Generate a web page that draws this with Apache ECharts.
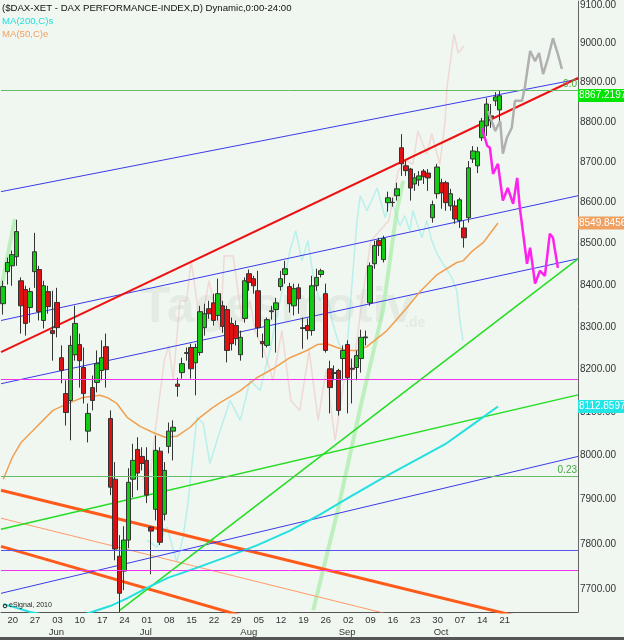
<!DOCTYPE html>
<html>
<head>
<meta charset="utf-8">
<script src="https://cdn.jsdelivr.net/npm/echarts@6/dist/echarts.min.js"></script>
<style>
html, body { margin: 0; padding: 0; background: #f0f7f0; }
#chart { width: 624px; height: 640px; }
</style>
</head>
<body>
<div id="chart"></div>
<script>
// trading days shown on the axis (weekdays from May 17 2013)
var firstDay = [2013, 4, 17];
var dayCount = 129;
var lastLabelDay = '2013-10-21';
var monthNames = ['Jan','Feb','Mar','Apr','May','Jun','Jul','Aug','Sep','Oct','Nov','Dec'];

// daily candles, May 17 .. Oct 21
var opens = [8355,8432,8446,8468,8410,8389,8346,8432,8437,8315,8384,8291,8358,8227,8143,8127,8234,8258,8204,8056,
  8157,8169,8197,8253,8085,7946,7773,7740,7809,7946,8014,7998,7989,7838,7878,8010,7867,8021,8056,8165,
  8192,8237,8251,8215,8239,8298,8343,8357,8327,8350,8341,8308,8303,8234,8320,8427,8415,8386,8265,8256,
  8336,8341,8396,8425,8396,8350,8393,8298,8303,8291,8398,8425,8379,8201,8190,8197,8225,8258,8202,8204,
  8225,8274,8357,8451,8507,8461,8600,8600,8617,8736,8691,8683,8646,8656,8678,8673,8563,8622,8649,8649,
  8592,8592,8556,8538,8563,8708,8691,8761,8791,8816,8854,8831];
var closes = [8396,8454,8473,8529,8350,8308,8384,8480,8336,8398,8348,8284,8298,8197,8099,8256,8308,8220,8143,8097,
  8127,8213,8227,8199,7928,7789,7691,7809,7939,7989,7960,7982,7910,7829,8012,7804,7966,8056,8065,8160,
  8213,8239,8201,8251,8336,8331,8331,8315,8379,8301,8244,8260,8272,8275,8410,8406,8398,8298,8260,8317,
  8338,8357,8415,8439,8355,8391,8367,8296,8291,8398,8418,8434,8244,8157,8192,8104,8244,8180,8200,8232,
  8275,8276,8446,8495,8495,8512,8612,8601,8634,8696,8679,8636,8661,8666,8664,8661,8595,8688,8624,8600,
  8622,8560,8607,8514,8686,8728,8726,8803,8846,8813,8864,8867];
var lows = [8329,8401,8398,8446,8284,8279,8310,8393,8315,8296,8331,8220,8275,8167,8069,8035,8220,8157,8120,8030,
  8104,8146,8174,8157,7910,7764,7650,7698,7791,7905,7921,7966,7892,7733,7853,7798,7853,8005,7989,8136,
  8178,8220,8178,8139,8232,8279,8319,8303,8315,8286,8216,8244,8256,8220,8310,8386,8379,8275,8227,8251,
  8317,8239,8386,8403,8334,8327,8331,8248,8270,8279,8386,8418,8239,8097,8174,8092,8174,8097,8120,8174,
  8192,8256,8350,8439,8470,8454,8578,8590,8605,8666,8666,8605,8629,8641,8646,8629,8551,8610,8585,8580,
  8580,8548,8538,8490,8551,8698,8673,8753,8766,8786,8841,8798];
var highs = [8410,8466,8483,8558,8418,8398,8393,8526,8446,8410,8398,8386,8393,8256,8174,8279,8350,8284,8251,8120,
  8185,8244,8268,8284,8104,7985,7820,7840,7971,8027,8042,8019,8019,7840,8046,8019,7985,8076,8081,8180,
  8227,8251,8260,8260,8350,8355,8362,8379,8415,8362,8350,8322,8315,8291,8418,8437,8422,8434,8284,8322,
  8350,8369,8434,8458,8405,8403,8403,8322,8320,8422,8439,8439,8403,8220,8209,8201,8256,8268,8225,8244,
  8293,8291,8454,8507,8514,8519,8627,8612,8649,8770,8703,8686,8673,8678,8683,8683,8605,8696,8659,8654,
  8634,8605,8612,8556,8703,8740,8738,8811,8861,8846,8876,8881];

// moving averages, [day index, value]
var ma50 = [[0,7946],[2,7995],[4,8030],[6.7,8058],[11.1,8104],[14.9,8122],[17.8,8134],[21.6,8139],[23.2,8134],
  [25.4,8120],[27.7,8088],[30.6,8067],[33.5,8053],[36.2,8042],[38.8,8044],[41.8,8065],[44,8088],[46.9,8111],
  [48.5,8122],[53,8150],[56.7,8180],[60.3,8201],[64.1,8227],[67.9,8244],[70.2,8258],[72.4,8260],[74.6,8251],
  [76.8,8244],[79.1,8244],[81.3,8253],[85.8,8291],[90.3,8346],[93.2,8384],[97,8425],[101.4,8454],[102.8,8458],
  [105,8483],[107.3,8502],[110.6,8550]];
var ma200 = [[0,7667],[3,7659],[6,7650],[10.9,7641],[16.9,7641],[19.8,7650],[23.9,7663],[27.9,7681],[31.9,7702],
  [36.8,7725],[42.9,7746],[49.8,7771],[56.7,7797],[63.9,7829],[70.8,7866],[77.7,7907],[84.7,7948],[91.8,7987],
  [98.8,8026],[104.8,8070],[110.6,8113]];

// projections after the last bar
var projMagenta = [[107,8786],[108.2,8741],[108.8,8736],[109.5,8671],[110.6,8696],[111.7,8605],[112.8,8636],
  [114,8597],[114.9,8661],[115.5,8587],[117.1,8451],[117.8,8490],[118.9,8403],[120,8434],[121.1,8422],
  [122.2,8524],[122.9,8514],[124,8441]];
var projGray = [[108.4,8828],[110,8778],[111.1,8803],[111.7,8721],[112.6,8761],[113.7,8786],[114.4,8854],
  [116,8854],[116.6,8887],[117.8,8981],[118.9,8955],[119.8,8976],[120.7,8922],[121.8,8963],[122.9,9014],
  [124,8973],[124.9,8935]];

// faint pattern overlays
var ghostPink = [[31,7944],[33,7966],[34,8058],[36,8220],[37,8256],[38,8174],[39.5,8362],[41,8362],[42,8458],
  [43,8386],[44,8291],[46,8410],[48.5,8291],[49.4,8470],[51.4,8470],[53.4,8315],[55.2,8362],[56.3,8291],
  [58.3,8244],[60.3,8174],[62.3,8291],[64.3,8127],[66.3,8104],[68.4,8244],[70.4,8081],[72.2,8197],[74.2,8035],
  [76.2,8174],[78.2,8197],[80.2,8362],[82.2,8507],[84.2,8531],[86.2,8556],[88.3,8679],[90.3,8703],[91.6,8695],
  [92.7,8778],[94.7,8720],[95.8,8771],[97.6,8695],[98.8,8803],[99.2,8887],[100.8,9025],[101.7,8976],[103,8994]];
var ghostCyan = [[32.1,7809],[34.4,7793],[36.6,7838],[38.8,7760],[40.2,7815],[41.3,7892],[43.3,8088],[44.7,8074],
  [46.2,7982],[48.5,8058],[50.7,8127],[53,8081],[55.2,8174],[57.4,8150],[59.6,8244],[61.9,8362],[64.1,8483],
  [65.4,8531],[66.8,8458],[68.1,8507],[69.5,8410],[70.8,8362],[72.2,8386],[73.5,8315],[74.8,8268],[76,8232],
  [76.9,8256],[78.2,8434],[79.1,8556],[79.8,8617],[81.3,8580],[83.6,8636],[85.4,8563],[86.5,8612],[87.6,8580],
  [88.7,8543],[89.8,8568],[90.9,8531],[91.6,8580],[92.7,8543],[93.6,8514],[94.7,8556],[95.8,8507],[97,8475],
  [98.3,8451],[99.4,8434],[100.3,8417],[101.4,8386],[102.1,8315],[102.8,8268]];
var ghostGreenA = [[-0.5,8390],[2.6,8560]];
var ghostGreenB = [[69.3,7654],[74.8,7876],[80.2,8127],[84.9,8339],[88,8580],[89.4,8654]];

// drawn trend lines, [day index, value]
var trendRed = [[-0.5,8240],[128.5,8912]];
var trendBlue1 = [[-0.5,8627],[128.5,8909]];
var trendBlue2 = [[-0.5,8315],[128.5,8617]];
var trendBlue3 = [[-0.5,8166],[128.5,8463]];
var trendBlue4 = [[-0.5,7691],[128.5,7998]];
var trendGreen1 = [[26.1,7654],[128.5,8463]];
var trendGreen2 = [[-0.5,7833],[128.5,8140]];
var trendOrange1 = [[-0.5,7921],[128.5,7608]];
var trendOrange2 = [[-0.5,7795],[66.3,7605]];
var trendOrange3 = [[-0.5,7858],[128.5,7543]];

// horizontal levels and axis tags
var fibTop = 8881, fibLow = 7953;
var levelBlue = 7787, levelMagentaHigh = 8176, levelMagentaLow = 7742;
var lastClose = 8867.2197, lastMa50 = 8549.8456, lastMa200 = 8112.8597;
var priceTicks = [7700,7800,7900,8000,8100,8200,8300,8400,8500,8600,8700,8800,8900,9000,9100];

var days = [];
(function () {
  var d = new Date(Date.UTC(firstDay[0], firstDay[1], firstDay[2]));
  while (days.length < dayCount) {
    var w = d.getUTCDay();
    if (w > 0 && w < 6) days.push(d.toISOString().slice(0, 10));
    d.setUTCDate(d.getUTCDate() + 1);
  }
})();

var candles = opens.map(function (o, i) { return [o, closes[i], lows[i], highs[i]]; });

var font = 'Liberation Sans, Arial, sans-serif';

function isMonday(s) { return new Date(s + 'T00:00:00Z').getUTCDay() === 1; }

function line(data, color, width, z, extra) {
  return Object.assign({
    type: 'line', xAxisIndex: 2, yAxisIndex: 0, data: data, symbol: 'none',
    silent: true, z: z, lineStyle: { color: color, width: width }
  }, extra || {});
}

function level(value, color, text) {
  return {
    yAxis: value, lineStyle: { color: color, width: 1, type: 'solid' },
    label: text ? { show: true, position: 'insideEndTop', distance: 1, formatter: text,
      color: '#44aa44', fontSize: 10, fontFamily: font } : { show: false }
  };
}

function tag(value, bg) {
  return {
    yAxis: value, lineStyle: { color: 'rgba(0,0,0,0)', width: 1 },
    label: { show: true, position: 'end', distance: 0, formatter: value.toFixed(4), opacity: 1,
      color: '#fff', backgroundColor: bg, padding: [2, 1, 1, 1], fontSize: 10, fontFamily: font }
  };
}

var chart = echarts.init(document.getElementById('chart'));

var option = {
  animation: false,
  backgroundColor: '#f0f7f0',
  grid: { left: 1, right: 46, top: 0, bottom: 28 },
  xAxis: [{
    type: 'category', data: days, boundaryGap: true, position: 'bottom',
    axisLine: { onZero: false, lineStyle: { color: '#555' } },
    axisTick: { show: false },
    splitLine: { show: false },
    axisLabel: {
      interval: function (i, v) { return isMonday(v) && v <= lastLabelDay; },
      formatter: function (v) { return v.slice(8); },
      color: '#333', fontSize: 9.5, fontFamily: font, margin: 3, padding: [0, 0, 0, 10]
    }
  }, {
    type: 'category', data: days, boundaryGap: true, position: 'bottom', offset: 12,
    axisLine: { show: false, onZero: false }, axisTick: { show: false },
    axisLabel: {
      interval: function (i, v) { return i > 0 && v.slice(5, 7) !== days[i - 1].slice(5, 7) && v <= lastLabelDay; },
      formatter: function (v) { return monthNames[+v.slice(5, 7) - 1]; },
      color: '#333', fontSize: 9.5, fontFamily: font, margin: 3, padding: [0, 0, 0, 8]
    }
  }, {
    type: 'value', min: -0.5, max: dayCount - 0.5, show: false,
    axisLine: { onZero: false }
  }],
  yAxis: [{
    type: 'log', logBase: 10, min: 7650, max: 9110, position: 'right',
    axisLine: { show: true, onZero: false, lineStyle: { color: '#666' } },
    axisTick: { show: false },
    splitLine: { show: false },
    axisLabel: {
      customValues: priceTicks,
      formatter: function (v) { return Number(v).toFixed(2); },
      color: '#333', fontSize: 10, fontFamily: font, margin: 2
    }
  }],
  graphic: [
    { type: 'text', left: 140, top: 283, z: 0, silent: true,
      style: { text: 'Tagesmotiv', font: 'bold 50px ' + font, fill: '#e3ebe3' } },
    { type: 'text', left: 405, top: 316, z: 0, silent: true,
      style: { text: '.de', font: 'bold 14px ' + font, fill: '#e3ebe3' } },
    { type: 'text', x: 2, y: 3, z: 10, style: { text: '($DAX-XET - DAX PERFORMANCE-INDEX,D) Dynamic,0:00-24:00', font: '9.6px ' + font, fill: '#111' } },
    { type: 'text', x: 2, y: 16, z: 10, style: { text: 'MA(200,C)s', font: '9.6px ' + font, fill: '#22dddd' } },
    { type: 'text', x: 2, y: 29, z: 10, style: { text: 'MA(50,C)e', font: '9.6px ' + font, fill: '#f0a060' } },
    { type: 'circle', shape: { cx: 5, cy: 606, r: 1.8 }, z: 10, style: { fill: 'none', stroke: '#222', lineWidth: 1 } },
    { type: 'text', x: 9, y: 602, z: 10, style: { text: 'eSignal, 2010', font: '7px ' + font, fill: '#222' } },
    { type: 'rect', shape: { x: 0, y: 637, width: 624, height: 3 }, z: 10, style: { fill: '#555' } }
  ],
  series: [
    // faint overlays
    line(ghostPink, 'rgba(240,180,180,0.45)', 1.5, 1),
    line(ghostCyan, 'rgba(120,230,230,0.45)', 1.5, 1),
    line(ghostGreenA, 'rgba(150,235,150,0.55)', 4, 1),
    line(ghostGreenB, 'rgba(150,235,150,0.55)', 4, 1),
    // horizontal levels and the price tags on the axis
    line([[-0.5, fibTop]], 'transparent', 0, 2, {
      clip: false,
      markLine: {
        silent: true, symbol: 'none', animation: false,
        data: [
          level(fibTop, '#66bb66', '0.0'),
          level(fibLow, '#66bb66', '0.23'),
          level(levelBlue, '#5555ee'),
          level(levelMagentaHigh, '#ee33ee'),
          level(levelMagentaLow, '#ee33ee'),
          tag(lastClose, '#00e600'),
          tag(lastMa50, '#f0a060'),
          tag(lastMa200, '#22e6e6')
        ]
      }
    }),
    // trend lines
    line(trendOrange1, '#ff5a1a', 3, 2),
    line(trendOrange2, '#ff5a1a', 3, 2),
    line(trendOrange3, '#ff9a6a', 1, 2),
    line(trendBlue1, '#3b3bee', 1, 2),
    line(trendBlue2, '#3b3bee', 1, 2),
    line(trendBlue3, '#3b3bee', 1, 2),
    line(trendBlue4, '#3b3bee', 1, 2),
    line(trendGreen1, '#22dd22', 1.5, 2),
    line(trendGreen2, '#22dd22', 1.5, 2),
    line(trendRed, '#ee1111', 2, 2),
    // moving averages
    line(ma200, '#22e0e0', 2, 3),
    line(ma50, '#f0a050', 1.5, 3),
    {
      type: 'candlestick', xAxisIndex: 0, yAxisIndex: 0, data: candles, barWidth: 5, z: 4, silent: true,
      itemStyle: { color: '#11cc11', color0: '#dd1111', borderColor: '#333', borderColor0: '#333', borderWidth: 1 }
    },
    // projections
    line(projGray, '#b0b0b0', 2.5, 5),
    line(projMagenta, '#ff22ee', 2.5, 5)
  ]
};

chart.setOption(option);
</script>
</body>
</html>
